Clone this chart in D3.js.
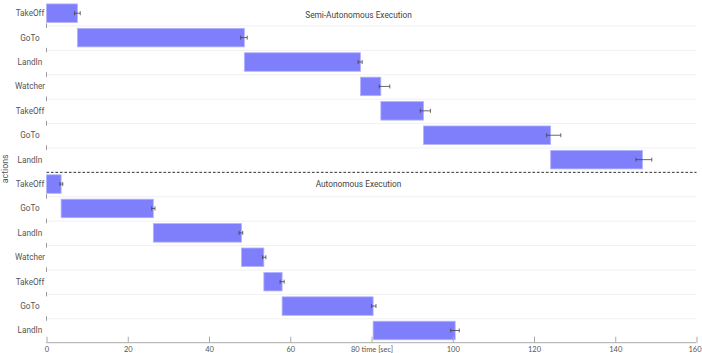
<!DOCTYPE html>
<html><head><meta charset="utf-8">
<script src="https://cdn.jsdelivr.net/npm/d3@7"></script>
<style>html,body{margin:0;padding:0;background:#fff;}svg{display:block;}</style>
</head><body>
<svg id="chart" width="702" height="353"></svg>
<script>
// ---- data ----
const actions = ["TakeOff","GoTo","LandIn","Watcher","TakeOff","GoTo","LandIn",
                 "TakeOff","GoTo","LandIn","Watcher","TakeOff","GoTo","LandIn"];
const groups = ["Semi-Autonomous Execution","Autonomous Execution"];
const groupOf = [0,0,0,0,0,0,0,1,1,1,1,1,1,1];
const startTimes = [0,7.6,48.7,77.3,82.3,92.8,124.1, 0,3.6,26.3,48.0,53.5,58.0,80.4];
const endTimes   = [7.6,48.7,77.3,82.3,92.8,124.1,146.7, 3.6,26.3,48.0,53.5,58.0,80.4,100.6];
const errLow     = [0.7,0.9,0.6,0.4,0.8,1.0,1.6, 0.3,0.4,0.6,0.3,0.5,0.4,1.1];
const errHigh    = [0.7,0.7,0.4,2.2,1.7,2.5,2.3, 0.4,0.4,0.3,0.5,0.5,0.7,1.0];
const xTicks = [0,20,40,60,80,100,120,140,160];
const xTickLabels = ["0","20","40","60","80 time [sec]","100","120","140","160"];
const yTitle = "actions";

// ---- layout ----
const svg = d3.select("#chart");
const m = {left:46.5, right:5.5, top:1, bottom:10.3};
const W = 702, H = 353;
const x = d3.scaleLinear().domain([0,160]).range([m.left, W - m.right]);
const y = d3.scaleBand().domain(d3.range(actions.length)).range([m.top, H - m.bottom])
  .paddingInner(0.24).paddingOuter(0.12);
const step = y.step();

// row separators
const bounds = d3.range(1, actions.length);
svg.append("g").selectAll("line").data(bounds).join("line")
  .attr("x1", x(0)).attr("x2", x(160))
  .attr("y1", i => y(i) - y.paddingInner()*step/2 + 0.5)
  .attr("y2", i => y(i) - y.paddingInner()*step/2 + 0.5)
  .attr("stroke", "#f1f1f1").attr("stroke-width", 1);
// little marks on left edge
svg.append("g").selectAll("line").data(bounds.filter(i => i !== 7)).join("line")
  .attr("x1", x(0)).attr("x2", x(0))
  .attr("y1", i => y(i) - y.paddingInner()*step/2 - 2)
  .attr("y2", i => y(i) - y.paddingInner()*step/2 + 2.5)
  .attr("stroke", "#999").attr("stroke-width", 1);

// bars
svg.append("g").selectAll("rect").data(actions).join("rect")
  .attr("x", (d,i) => x(startTimes[i]))
  .attr("y", (d,i) => y(i))
  .attr("width", (d,i) => x(endTimes[i]) - x(startTimes[i]))
  .attr("height", y.bandwidth())
  .attr("fill", "#7f7ffc").attr("stroke", "#b4b4ff").attr("stroke-width", 0.8);

// error bars
const eb = svg.append("g").attr("stroke", "#444").attr("stroke-width", 0.8);
actions.forEach((d,i) => {
  const cy = y(i) + y.bandwidth()/2;
  const x1 = x(endTimes[i] - errLow[i]), x2 = x(endTimes[i] + errHigh[i]);
  eb.append("line").attr("x1", x1).attr("x2", x2).attr("y1", cy).attr("y2", cy);
  eb.append("line").attr("x1", x1).attr("x2", x1).attr("y1", cy-2).attr("y2", cy+2);
  eb.append("line").attr("x1", x2).attr("x2", x2).attr("y1", cy-2).attr("y2", cy+2);
});

// dashed divider between groups
const divY = y(7) - y.paddingInner()*step/2 + 0.5;
svg.append("line").attr("x1", x(0)).attr("x2", x(160)).attr("y1", divY).attr("y2", divY)
  .attr("stroke", "#333").attr("stroke-width", 1).attr("stroke-dasharray", "2.5,2");

// group titles
groups.forEach((g, gi) => {
  const first = groupOf.indexOf(gi);
  svg.append("text").attr("x", x(76.8)).attr("y", y(first) + y.bandwidth()/2 + (gi === 0 ? 5 : 3))
    .attr("text-anchor", "middle").attr("font-family", "Roboto, sans-serif")
    .attr("font-size", 8.3).attr("fill", "#444").text(g);
});

// y labels (centred in the label column)
svg.append("g").selectAll("text").data(actions).join("text")
  .attr("x", 30).attr("y", (d,i) => y(i) + y.bandwidth()/2 + 3)
  .attr("text-anchor", "middle").attr("font-family", "Roboto, sans-serif")
  .attr("font-size", 8.2).attr("fill", "#555").text(d => d);

// y title
svg.append("text").attr("transform", `translate(7.5,${y(7) - 6}) rotate(-90)`)
  .attr("text-anchor", "middle").attr("font-family", "Roboto, sans-serif")
  .attr("font-size", 8.8).attr("fill", "#555").text(yTitle);

// x axis
const axisY = H - m.bottom;
const xAxis = d3.axisTop(x).tickValues(xTicks).tickSize(6).tickFormat((d,i) => xTickLabels[i]);
const gx = svg.append("g").attr("transform", `translate(0,${axisY})`).call(xAxis);
gx.select(".domain").attr("stroke", "#aaa").attr("d", `M${x(0)},0H${x(160)}`);
gx.selectAll(".tick line").attr("stroke", "#aaa");
gx.selectAll(".tick text").attr("y", 9.5).attr("dy", 0).attr("font-family", "Lato, sans-serif")
  .attr("font-size", 7.5).attr("fill", "#555")
  .attr("text-anchor", (d,i) => i === xTicks.length - 1 ? "end" : "middle")
  .attr("dx", (d,i) => i === xTicks.length - 1 ? 4.5 : 0);
</script>
</body></html>
